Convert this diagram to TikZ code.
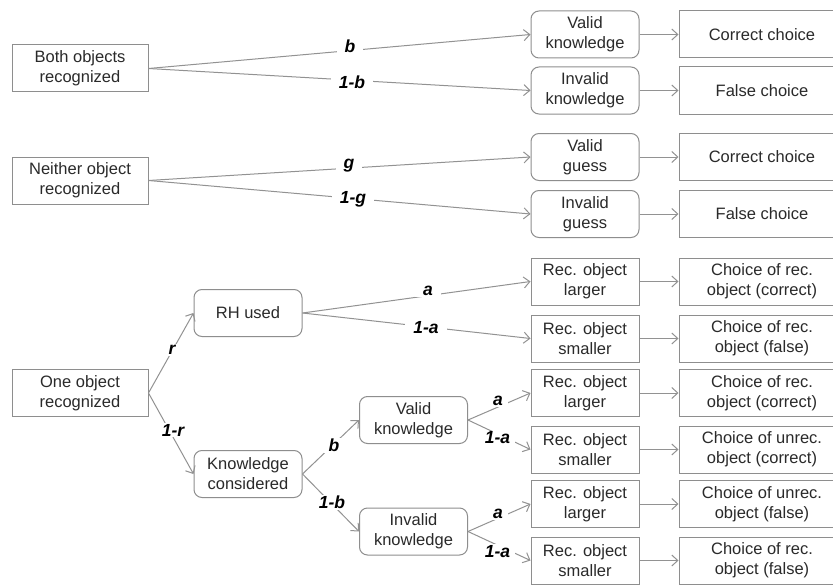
\documentclass[tikz,border=0pt]{standalone}
\usepackage{fontspec}
\setmainfont{Liberation Sans}
\usetikzlibrary{arrows.meta}
\definecolor{ln}{HTML}{929292}
\definecolor{bd}{HTML}{8E8E8E}
\definecolor{tx}{HTML}{2A2A2A}
\begin{document}
\begin{tikzpicture}[x=1pt,y=-1pt,
  box/.style={draw=bd, line width=1pt, text=tx, align=center, font=\fontsize{16.5}{20}\selectfont, inner sep=0pt, minimum height=47pt, minimum width=108pt},
  lbox/.style={box, minimum width=136pt},
  rbox/.style={box, rounded corners=8pt},
  cbox/.style={box, minimum width=166pt},
  arr/.style={draw=ln, line width=1pt, -{Straight Barb[length=6pt,width=11pt]}},
  lab/.style={fill=white, inner xsep=8pt, inner ysep=1pt, text=black, font=\fontsize{17.5}{20}\bfseries\itshape\selectfont}
]
\clip (0,0) rectangle (833,586);
\fill[white] (0,0) rectangle (833,586);

% left column
\node[lbox] (both) at (80,68.5) {Both objects\\recognized};
\node[lbox] (neither) at (80,180.5) {Neither object\\recognized};
\node[lbox] (one) at (80,393) {One object\\recognized};

% second stage lower part
\node[rbox] (rh) at (248,313) {RH used};
\node[rbox] (kc) at (248,474) {Knowledge\\considered};
\node[rbox] (vk2) at (413.5,420) {Valid\\knowledge};
\node[rbox] (ik2) at (413.5,531.5) {Invalid\\knowledge};

% middle column
\node[rbox] (vk1) at (585,34.5) {Valid\\knowledge};
\node[rbox] (ik1) at (585,90.5) {Invalid\\knowledge};
\node[rbox] (vg) at (585,157) {Valid\\guess};
\node[rbox] (ig) at (585,214) {Invalid\\guess};
\node[box] (ma) at (585,281.5) {Rec. object\\larger};
\node[box] (mb) at (585,338.5) {Rec. object\\smaller};
\node[box] (mc) at (585,393) {Rec. object\\larger};
\node[box] (md) at (585,449.5) {Rec. object\\smaller};
\node[box] (me) at (585,504) {Rec. object\\larger};
\node[box] (mf) at (585,560.5) {Rec. object\\smaller};

% right column
\node[cbox] (r1) at (762,34.5) {Correct choice};
\node[cbox] (r2) at (762,90.5) {False choice};
\node[cbox] (r3) at (762,157) {Correct choice};
\node[cbox] (r4) at (762,214) {False choice};
\node[cbox] (ra) at (762,281.5) {Choice of rec.\\object (correct)};
\node[cbox] (rb) at (762,338.5) {Choice of rec.\\object (false)};
\node[cbox] (rc) at (762,393) {Choice of rec.\\object (correct)};
\node[cbox] (rd) at (762,449.5) {Choice of unrec.\\object (correct)};
\node[cbox] (re) at (762,504) {Choice of unrec.\\object (false)};
\node[cbox] (rf) at (762,560.5) {Choice of rec.\\object (false)};

% branch connectors
\draw[arr] (both.east) -- (vk1.west);
\draw[arr] (both.east) -- (ik1.west);
\draw[arr] (neither.east) -- (vg.west);
\draw[arr] (neither.east) -- (ig.west);
\draw[arr] (one.east) -- (rh.west);
\draw[arr] (one.east) -- (kc.west);
\draw[arr] (rh.east) -- (ma.west);
\draw[arr] (rh.east) -- (mb.west);
\draw[arr] (kc.east) -- (vk2.west);
\draw[arr] (kc.east) -- (ik2.west);
\draw[arr] (vk2.east) -- (mc.west);
\draw[arr] (vk2.east) -- (md.west);
\draw[arr] (ik2.east) -- (me.west);
\draw[arr] (ik2.east) -- (mf.west);

% middle to right
\draw[arr] (vk1) -- (r1);
\draw[arr] (ik1) -- (r2);
\draw[arr] (vg) -- (r3);
\draw[arr] (ig) -- (r4);
\draw[arr] (ma) -- (ra);
\draw[arr] (mb) -- (rb);
\draw[arr] (mc) -- (rc);
\draw[arr] (md) -- (rd);
\draw[arr] (me) -- (re);
\draw[arr] (mf) -- (rf);

% labels
\node[lab] (lb1) at (350,46) {b};
\node[lab] (lnb1) at (352,82) {1-b};
\node[lab] (lg) at (349,166) {g};
\node[lab] (lng) at (353,199) {1-g};
\node[lab] (lr) at (172,350) {r};
\node[lab] (lnr) at (173,430) {1-r};
\node[lab] (la1) at (428,291) {a};
\node[lab] (lna1) at (426,328) {1-a};
\node[lab, inner xsep=5pt] (lb2) at (334,445.5) {b};
\node[lab, inner xsep=5pt] (lnb2) at (332,502.5) {1-b};
\node[lab, inner xsep=5pt] (la2) at (498,401) {a};
\node[lab, inner xsep=5pt] (lna2) at (497.5,438) {1-a};
\node[lab, inner xsep=5pt] (la3) at (498,514) {a};
\node[lab, inner xsep=5pt] (lna3) at (497.5,551.5) {1-a};
\end{tikzpicture}
\end{document}
